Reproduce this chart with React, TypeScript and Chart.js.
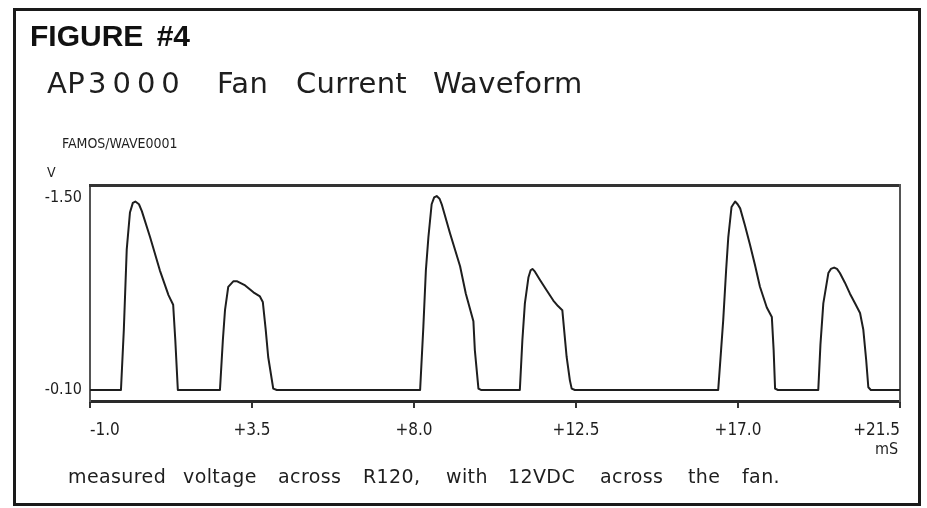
import { useEffect, useRef } from "react";
import { Chart, registerables } from "chart.js";

Chart.register(...registerables);

// Waveform samples: time (ms) and measured voltage (V)
const TIME_MS = [
  -1.0, -0.14, -0.06, 0.02, 0.11, 0.19, 0.26, 0.36, 0.44, 0.67, 0.94, 1.18, 1.31, 1.37, 1.44,
  2.61, 2.69, 2.75, 2.84, 2.98, 3.09, 3.31, 3.54, 3.72, 3.8, 3.88, 3.95, 4.09, 4.19,
  8.17, 8.26, 8.33, 8.4, 8.49, 8.56, 8.63, 8.71, 8.77, 9.0, 9.28, 9.44, 9.65, 9.69, 9.79, 9.86,
  10.94, 11.01, 11.08, 11.18, 11.24, 11.29, 11.36, 11.5, 11.67, 11.87, 12.0, 12.12, 12.18, 12.24, 12.33, 12.38, 12.47,
  16.45, 16.53, 16.59, 16.67, 16.73, 16.82, 16.92, 16.99, 17.06, 17.19, 17.33, 17.47, 17.61, 17.8, 17.94, 17.99, 18.03, 18.11,
  19.23, 19.29, 19.37, 19.51, 19.58, 19.67, 19.75, 19.83, 19.97, 20.11, 20.25, 20.39, 20.48, 20.56, 20.62, 20.69, 21.5,
];
const VOLTS = [
  -0.1, -0.1, -0.54, -1.12, -1.39, -1.46, -1.47, -1.45, -1.4, -1.21, -0.97, -0.79, -0.72, -0.46, -0.1,
  -0.1, -0.46, -0.68, -0.85, -0.89, -0.89, -0.86, -0.81, -0.78, -0.74, -0.54, -0.34, -0.11, -0.1,
  -0.1, -0.56, -0.97, -1.21, -1.45, -1.5, -1.51, -1.49, -1.45, -1.24, -1.0, -0.8, -0.6, -0.39, -0.11, -0.1,
  -0.1, -0.46, -0.73, -0.92, -0.97, -0.98, -0.96, -0.9, -0.83, -0.75, -0.71, -0.68, -0.51, -0.34, -0.17, -0.11, -0.1,
  -0.1, -0.39, -0.61, -0.97, -1.21, -1.43, -1.47, -1.45, -1.42, -1.3, -1.16, -1.01, -0.85, -0.7, -0.63, -0.39, -0.11, -0.1,
  -0.1, -0.43, -0.73, -0.95, -0.98, -0.99, -0.98, -0.95, -0.88, -0.8, -0.73, -0.66, -0.54, -0.32, -0.12, -0.1, -0.1,
];

const X_TICKS = [-1.0, 3.5, 8.0, 12.5, 17.0, 21.5];
const Y_TICKS = [-1.5, -0.1];
const X_RANGE = [-1.0, 21.5];
const Y_RANGE = [-1.59, -0.02];

const FIGURE_LABEL = "FIGURE #4";
const TITLE_WORDS = ["AP", "3000", "Fan", "Current", "Waveform"];
const SOURCE_LABEL = "FAMOS/WAVE0001";
const Y_UNIT = "V";
const X_UNIT = "mS";
const CAPTION_WORDS = ["measured", "voltage", "across", "R120,", "with", "12VDC", "across", "the", "fan."];

const NARROW = "'Liberation Sans Narrow', 'DejaVu Sans Condensed', 'Arial Narrow', sans-serif";
const PLOT_FONT = "'DejaVu Sans', 'Verdana', sans-serif";
const INK = "#1e1e1e";

const TITLE_LEFT = [47, 88, 217, 296, 433];
const TITLE_SPACING = [0.5, 6, 0.3, 0.3, 0.3];
const CAPTION_LEFT = [68, 183, 278, 363, 446, 508, 600, 688, 742];

export default function App() {
  const canvasRef = useRef<HTMLCanvasElement | null>(null);

  useEffect(() => {
    const canvas = canvasRef.current;
    if (!canvas) return;
    const fmtX = (v: number) => (v < 0 ? v.toFixed(1) : "+" + v.toFixed(1));
    const chart = new Chart(canvas, {
      type: "line",
      data: {
        datasets: [
          {
            data: TIME_MS.map((t, i) => ({ x: t, y: VOLTS[i] })),
            borderColor: INK,
            borderWidth: 2,
            pointRadius: 0,
            fill: false,
            tension: 0,
            borderJoinStyle: "round",
          },
        ],
      },
      options: {
        responsive: false,
        animation: false,
        devicePixelRatio: 1,
        events: [],
        layout: { padding: { left: 30, right: 27, top: 185, bottom: 57 } },
        plugins: { legend: { display: false }, tooltip: { enabled: false }, title: { display: false } },
        scales: {
          x: {
            type: "linear",
            position: "bottom",
            min: X_RANGE[0],
            max: X_RANGE[1],
            afterBuildTicks: (s: any) => {
              s.ticks = X_TICKS.map((v) => ({ value: v }));
            },
            afterFit: (s: any) => {
              s.height = 50;
            },
            ticks: {
              align: "inner",
              padding: 12,
              color: INK,
              font: { family: NARROW, size: 17 },
              maxRotation: 0,
              autoSkip: false,
              callback: (v: any) => fmtX(Number(v)),
            },
            grid: {
              display: true,
              drawOnChartArea: false,
              drawTicks: true,
              tickLength: 7,
              tickWidth: 2,
              tickColor: "#333",
              color: "#333",
              lineWidth: 2,
            },
            border: { display: true, color: "#2a2a2a", width: 3 },
          },
          y: {
            type: "linear",
            position: "left",
            min: Y_RANGE[0],
            max: Y_RANGE[1],
            reverse: true,
            afterBuildTicks: (s: any) => {
              s.ticks = Y_TICKS.map((v) => ({ value: v }));
            },
            afterFit: (s: any) => {
              s.width = 60;
            },
            ticks: {
              padding: 8,
              color: INK,
              font: { family: NARROW, size: 16 },
              callback: (v: any) => Number(v).toFixed(2),
            },
            grid: { display: false, drawTicks: false, tickLength: 0 },
            border: { display: true, color: "#555", width: 2 },
          },
          x2: {
            type: "linear",
            position: "top",
            min: X_RANGE[0],
            max: X_RANGE[1],
            ticks: { display: false },
            grid: { display: false },
            border: { display: true, color: "#333", width: 3 },
            afterFit: (s: any) => {
              s.height = 0;
            },
          },
          y2: {
            type: "linear",
            position: "right",
            min: 0,
            max: 1,
            ticks: { display: false },
            grid: { display: false },
            border: { display: true, color: "#555", width: 2 },
            afterFit: (s: any) => {
              s.width = 0;
            },
          },
        },
      },
    } as any);
    return () => chart.destroy();
  }, []);

  const abs = (extra: React.CSSProperties): React.CSSProperties => ({
    position: "absolute",
    whiteSpace: "nowrap",
    color: INK,
    margin: 0,
    ...extra,
  });

  return (
    <div
      style={{
        position: "absolute",
        left: 0,
        top: 0,
        width: 927,
        height: 508,
        background: "#fff",
        overflow: "hidden",
      }}
    >
      <canvas ref={canvasRef} width={927} height={508} style={{ position: "absolute", left: 0, top: 0, width: 927, height: 508 }} />
      <div
        style={{
          position: "absolute",
          left: 13,
          top: 8,
          width: 908,
          height: 498,
          border: "3px solid #1a1a1a",
          boxSizing: "border-box",
          pointerEvents: "none",
        }}
      />
      <div
        style={abs({
          left: 30,
          top: 21,
          fontFamily: "'Liberation Sans', Arial, sans-serif",
          fontWeight: 900,
          fontSize: 30,
          lineHeight: "30px",
          wordSpacing: 5,
          color: "#111",
        })}
      >
        {FIGURE_LABEL}
      </div>
      {TITLE_WORDS.map((w, i) => (
        <div
          key={"t" + i}
          style={abs({
            left: TITLE_LEFT[i],
            top: 69,
            fontFamily: PLOT_FONT,
            fontSize: 29,
            lineHeight: "29px",
            letterSpacing: TITLE_SPACING[i],
          })}
        >
          {w}
        </div>
      ))}
      <div style={abs({ left: 62, top: 136, fontFamily: NARROW, fontSize: 14, lineHeight: "14px" })}>{SOURCE_LABEL}</div>
      <div style={abs({ left: 47, top: 165, fontFamily: NARROW, fontSize: 14, lineHeight: "14px" })}>{Y_UNIT}</div>
      <div style={abs({ left: 875, top: 441, fontFamily: NARROW, fontSize: 16, lineHeight: "16px" })}>{X_UNIT}</div>
      {CAPTION_WORDS.map((w, i) => (
        <div
          key={"c" + i}
          style={abs({
            left: CAPTION_LEFT[i],
            top: 467,
            fontFamily: PLOT_FONT,
            fontSize: 19,
            lineHeight: "19px",
            letterSpacing: 0.4,
          })}
        >
          {w}
        </div>
      ))}
    </div>
  );
}
